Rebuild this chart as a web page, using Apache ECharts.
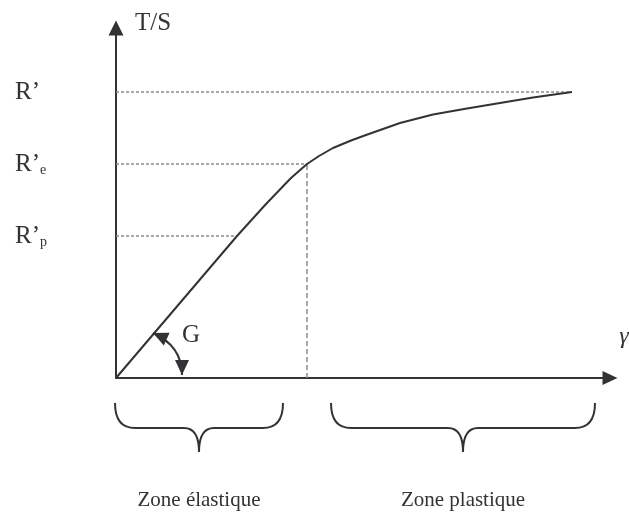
<!DOCTYPE html>
<html><head><meta charset="utf-8">
<script src="https://cdn.jsdelivr.net/npm/echarts@6/dist/echarts.min.js"></script>
<style>html,body{margin:0;padding:0;background:#fff}#c{width:629px;height:512px}</style>
</head><body><div id="c"></div>
<script>
// Curve T/S versus strain (arbitrary units)
const strain = [0, 121, 150, 175, 191, 203, 217, 235, 250, 284, 317, 351, 384, 417, 456];
const stress = [0, 142, 174, 200, 214, 222, 230, 237.5, 243, 255, 263.5, 269.5, 275, 280.5, 286];
// Reference levels
const levelValues = [286, 214, 142];
const levelLabels = ['R’', 'R’{sub|e}', 'R’{sub|p}'];
const levelEnds = [456, 191, 121];
const kneeStrain = 191;
const kneeStress = 214;
// Zones
const zoneNames = ['Zone élastique', 'Zone plastique'];
const zoneStart = [-1, 215];
const zoneEnd = [167, 479];
const axisMaxX = 494, axisMaxY = 350;

const SERIF = "'Liberation Serif','Times New Roman',serif";
const INK = '#333335';
const GUIDE = '#8c8c8c';

const chart = echarts.init(document.getElementById('c'), null, {renderer: 'canvas'});

const guideSeries = levelValues.map((v, i) => ({
  type: 'line', silent: true, symbol: 'none', z: 1,
  data: [[0, v], [levelEnds[i], v]],
  lineStyle: {color: GUIDE, width: 1.5, type: [3, 2]}
}));
guideSeries.push({
  type: 'line', silent: true, symbol: 'none', z: 1,
  data: [[kneeStrain, 0], [kneeStrain, kneeStress]],
  lineStyle: {color: GUIDE, width: 1.5, type: [5, 3]}
});

chart.setOption({
  animation: false,
  grid: {left: 116, right: 19, top: 28, bottom: 134, containLabel: false},
  xAxis: {
    type: 'value', min: 0, max: axisMaxX,
    splitLine: {show: false}, axisTick: {show: false}, axisLabel: {show: false},
    axisLine: {show: true, symbol: ['none', 'triangle'], symbolSize: [14, 15],
      lineStyle: {color: INK, width: 2}}
  },
  yAxis: {
    type: 'value', min: 0, max: axisMaxY,
    name: 'T/S', nameLocation: 'end', nameGap: 5,
    nameTextStyle: {fontFamily: SERIF, fontSize: 25, color: INK, align: 'left',
      verticalAlign: 'middle', padding: [0, 0, 0, 19]},
    splitLine: {show: false}, axisTick: {show: false},
    axisLine: {show: true, symbol: ['none', 'triangle'], symbolSize: [15, 15],
      lineStyle: {color: INK, width: 2}},
    axisLabel: {
      show: true, customValues: levelValues, align: 'left', margin: 101,
      formatter: v => levelLabels[levelValues.indexOf(v)] || '',
      fontFamily: SERIF, fontSize: 25, color: INK, lineHeight: 26,
      rich: {sub: {fontFamily: SERIF, fontSize: 14, color: INK, verticalAlign: 'bottom', lineHeight: 14}}
    }
  },
  series: guideSeries.concat([{
    type: 'line', silent: true, symbol: 'none', z: 3,
    smooth: false,
    data: strain.map((x, i) => [x, stress[i]]),
    lineStyle: {color: INK, width: 2, join: 'round'}
  }])
});

// Annotations positioned from the axes
const O = chart.convertToPixel({gridIndex: 0}, [0, 0]);
const xEnd = chart.convertToPixel({gridIndex: 0}, [axisMaxX, 0]);
const graphics = [];

function tri(tip, dir, len, half) {
  const n = Math.hypot(dir[0], dir[1]);
  const d = [dir[0] / n, dir[1] / n];
  const b = [tip[0] - d[0] * len, tip[1] - d[1] * len];
  const p = [-d[1], d[0]];
  return {type: 'polygon', z: 10, shape: {points: [tip, [b[0] + p[0] * half, b[1] + p[1] * half], [b[0] - p[0] * half, b[1] - p[1] * half]]},
    style: {fill: INK}};
}
function bez(x1, y1, cx, cy, x2, y2) {
  return {type: 'bezierCurve', z: 10, shape: {x1, y1, x2, y2, cpx1: cx, cpy1: cy},
    style: {stroke: INK, lineWidth: 2, fill: null}};
}
function seg(x1, y1, x2, y2) {
  return {type: 'line', z: 10, shape: {x1, y1, x2, y2}, style: {stroke: INK, lineWidth: 2}};
}

// Angle G arc
const P1 = [O[0] + 37, O[1] - 45];
const P2 = [O[0] + 66, O[1] - 3];
const C = [O[0] + 66, O[1] - 32];
graphics.push(bez(P1[0], P1[1], C[0], C[1], P2[0], P2[1]));
graphics.push(tri(P1, [P1[0] - C[0], P1[1] - C[1]], 15, 7));
graphics.push(tri(P2, [P2[0] - C[0], P2[1] - C[1]], 15, 7));
graphics.push({type: 'text', z: 10, x: O[0] + 75, y: O[1] - 43,
  style: {text: 'G', fontFamily: SERIF, fontSize: 25, fill: INK, align: 'center', verticalAlign: 'middle'}});

// x-axis symbol
graphics.push({type: 'text', z: 10, x: xEnd[0] + 14, y: O[1] - 41,
  style: {text: 'γ', fontFamily: SERIF, fontStyle: 'italic', fontSize: 24, fill: INK, align: 'center', verticalAlign: 'middle'}});

// Braces and zone names
const yTop = O[1] + 25, yMid = O[1] + 50, yTip = O[1] + 74;
zoneNames.forEach((name, i) => {
  const x0 = chart.convertToPixel({gridIndex: 0}, [zoneStart[i], 0])[0];
  const x1 = chart.convertToPixel({gridIndex: 0}, [zoneEnd[i], 0])[0];
  const cx = (x0 + x1) / 2;
  const re = 20, rc = 15;
  graphics.push(bez(x0, yTop, x0, yMid, x0 + re, yMid));
  graphics.push(seg(x0 + re, yMid, cx - rc, yMid));
  graphics.push(bez(cx - rc, yMid, cx, yMid, cx, yTip));
  graphics.push(bez(cx + rc, yMid, cx, yMid, cx, yTip));
  graphics.push(seg(cx + rc, yMid, x1 - re, yMid));
  graphics.push(bez(x1 - re, yMid, x1, yMid, x1, yTop));
  graphics.push({type: 'text', z: 10, x: cx, y: O[1] + 122,
    style: {text: name, fontFamily: SERIF, fontSize: 21, fill: INK, align: 'center', verticalAlign: 'middle'}});
});

chart.setOption({graphic: graphics});
</script>
</body></html>
